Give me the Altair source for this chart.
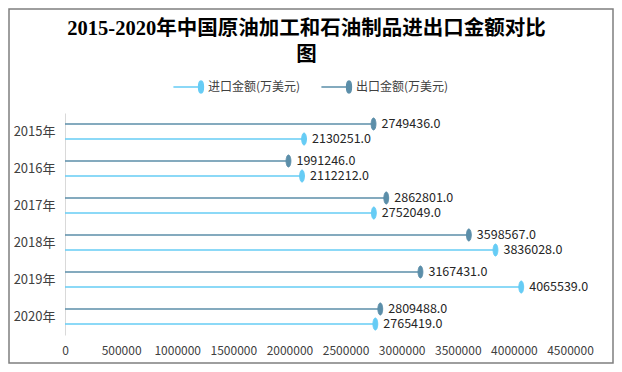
import altair as alt
import pandas as pd

years = ["2015年", "2016年", "2017年", "2018年", "2019年", "2020年"]
series = ["进口金额(万美元)", "出口金额(万美元)"]
imports = [2130251, 2112212, 2752049, 3836028, 4065539, 2765419]
exports = [2749436, 1991246, 2862801, 3598567, 3167431, 2809488]
x_ticks = [0, 500000, 1000000, 1500000, 2000000, 2500000, 3000000, 3500000, 4000000, 4500000]
title_lines = ["2015-2020年中国原油加工和石油制品进出口金额对比", "图"]
colors = ["#66CCF5", "#5B8EA9"]

rows = []
for i, y in enumerate(years):
    rows.append({"year": y, "series": series[1], "value": exports[i]})
    rows.append({"year": y, "series": series[0], "value": imports[i]})
df = pd.DataFrame(rows)

FONT = "Noto Sans CJK SC"
W, H = 505, 222
PAD = {"left": 57, "top": 105, "right": 44, "bottom": 29}

ellipse = "M0,-1A0.4,1 0 1,1 0,1A0.4,1 0 1,1 0,-1Z"
leg_symbol = "M-4.6,0L-0.4,0M0,-1A0.4,1 0 1,1 0,1A0.4,1 0 1,1 0,-1Z"

scale_c = alt.Scale(domain=series, range=colors)
legend = alt.Legend(title=None, orient="none", direction="horizontal",
                    legendX=129, legendY=-33,
                    symbolType=leg_symbol, symbolSize=144,
                    symbolStrokeWidth=1.5, columnPadding=17,
                    labelFont=FONT, labelFontSize=12,
                    labelColor="#404040", labelOffset=0)

y_enc = alt.Y("year:N", sort=years, title=None,
              scale=alt.Scale(paddingInner=0, paddingOuter=0),
              axis=alt.Axis(domain=True, domainColor="#d9d9d9", ticks=False,
                            labelFont=FONT, labelFontSize=13, labelColor="#404040",
                            labelPadding=10))
yoff = alt.YOffset("series:N", sort=[series[1], series[0]],
                   scale=alt.Scale(paddingInner=0, paddingOuter=0.23))
x_enc = alt.X("value:Q", title=None,
              scale=alt.Scale(domain=[0, 4500000], nice=False),
              axis=alt.Axis(values=x_ticks, format="d", domain=False, ticks=False,
                            grid=False, labelFont=FONT, labelFontSize=12,
                            labelColor="#404040", labelPadding=10,
                            labelOverlap=False, labelFlush=False))

base = alt.Chart(df)

rules = base.mark_rule(strokeWidth=1.5).encode(
    x=x_enc, x2=alt.datum(0), y=y_enc, yOffset=yoff,
    stroke=alt.Stroke("series:N", scale=scale_c, legend=legend),
)

points = base.mark_point(shape=ellipse, size=144, filled=True, opacity=1,
                         strokeWidth=1).encode(
    x=alt.X("value:Q"), y=alt.Y("year:N", sort=years), yOffset=yoff,
    fill=alt.Fill("series:N", scale=scale_c, legend=legend),
    stroke=alt.Stroke("series:N", scale=scale_c, legend=legend),
)

labels = base.mark_text(align="left", baseline="middle", dx=8, font=FONT,
                        fontSize=12.5, color="#262626").encode(
    x=alt.X("value:Q"), y=alt.Y("year:N", sort=years), yOffset=yoff,
    text=alt.Text("value:Q", format=".1f"),
)

border = alt.Chart(pd.DataFrame({"k": [0]})).mark_rect(
    fill=None, stroke="#7f7f7f", strokeWidth=1.5).encode(
    x=alt.value(-PAD["left"] + 1), x2=alt.value(W + PAD["right"] - 1),
    y=alt.value(-PAD["top"] + 1), y2=alt.value(H + PAD["bottom"] - 1),
)

chart = alt.layer(border, rules, points, labels).properties(
    width=W, height=H,
    autosize=alt.AutoSizeParams(type="none"),
    padding=PAD,
    background="white",
    title=alt.TitleParams(title_lines, anchor="middle", frame="group",
                          font="Liberation Serif, Noto Sans CJK SC",
                          fontSize=20.5, fontWeight="bold", color="#000000",
                          lineHeight=26, offset=-57, dx=-11),
).configure_view(stroke="transparent", strokeWidth=0)

chart.save("out.html", embed_options={"renderer": "svg", "actions": False})
